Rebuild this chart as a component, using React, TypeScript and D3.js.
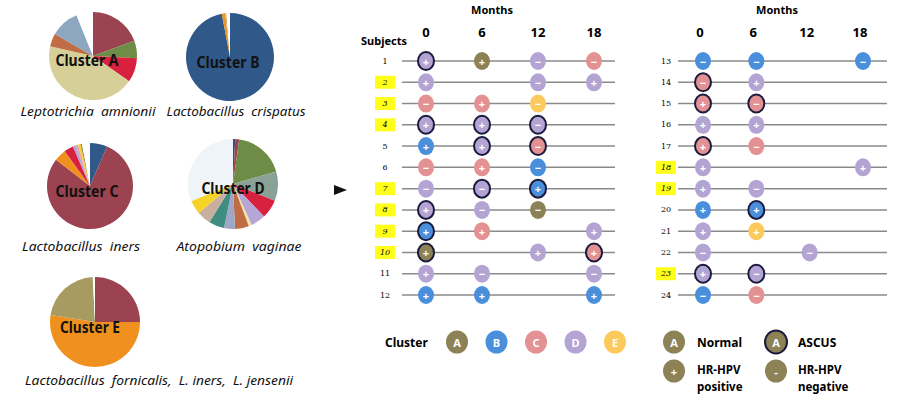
import * as d3 from "d3";
import React from "react";

// ---- data ----
const months = [0, 6, 12, 18];
const subjectsLeft = ["1", "2", "3", "4", "5", "6", "7", "8", "9", "10", "11", "12"];
const subjectsRight = ["13", "14", "15", "16", "17", "18", "19", "20", "21", "22", "23", "24"];
const highlighted = ["2", "3", "4", "7", "8", "9", "10", "18", "19", "23"];

// [subject, month, cluster, hr-hpv, ascus]
const visits: [string, number, string, string, boolean][] = [
    ["1", 0, "D", "+", true], ["1", 6, "A", "+", false], ["1", 12, "D", "-", false], ["1", 18, "C", "-", false],
    ["2", 0, "D", "+", false], ["2", 12, "D", "-", false], ["2", 18, "D", "+", false],
    ["3", 0, "C", "-", false], ["3", 6, "C", "+", false], ["3", 12, "E", "-", false],
    ["4", 0, "D", "+", true], ["4", 6, "D", "+", true], ["4", 12, "D", "-", true],
    ["5", 0, "B", "+", false], ["5", 6, "D", "+", true], ["5", 12, "C", "-", true],
    ["6", 0, "C", "-", false], ["6", 6, "C", "+", false], ["6", 12, "B", "-", false],
    ["7", 0, "D", "-", false], ["7", 6, "D", "-", true], ["7", 12, "B", "+", true],
    ["8", 0, "D", "+", true], ["8", 6, "D", "-", false], ["8", 12, "A", "-", false],
    ["9", 0, "B", "+", true], ["9", 6, "C", "+", false], ["9", 18, "D", "+", false],
    ["10", 0, "A", "+", true], ["10", 12, "D", "+", false], ["10", 18, "C", "+", true],
    ["11", 0, "D", "+", false], ["11", 6, "D", "-", false], ["11", 18, "D", "-", false],
    ["12", 0, "B", "+", false], ["12", 6, "B", "+", false], ["12", 18, "B", "+", false],
    ["13", 0, "B", "-", false], ["13", 6, "B", "-", false], ["13", 18, "B", "-", false],
    ["14", 0, "C", "-", true], ["14", 6, "D", "+", false],
    ["15", 0, "C", "+", true], ["15", 6, "C", "-", true],
    ["16", 0, "D", "+", false], ["16", 6, "D", "+", false],
    ["17", 0, "C", "+", true], ["17", 6, "C", "-", false],
    ["18", 0, "D", "+", false], ["18", 18, "D", "+", false],
    ["19", 0, "D", "+", false], ["19", 6, "D", "-", false],
    ["20", 0, "B", "+", false], ["20", 6, "B", "+", true],
    ["21", 0, "D", "+", false], ["21", 6, "E", "+", false],
    ["22", 0, "D", "-", false], ["22", 12, "D", "-", false],
    ["23", 0, "D", "+", true], ["23", 6, "D", "-", true],
    ["24", 0, "B", "-", false], ["24", 6, "C", "-", false],
];

const clusters = ["A", "B", "C", "D", "E"];
const clusterColours = ["#8c8256", "#4a8fdc", "#e39193", "#b4a4d4", "#fcc95c"];

// pie compositions (share of reads, clockwise from top)
const pieA = [19.4, 6.4, 8.9, 43.9, 4.7, 10.6, 6.1];
const pieAColours = ["#9b4350", "#6e8c45", "#d8203f", "#d6cf97", "#c06c44", "#8ea7c1", "#ffffff"];
const pieB = [97, 1.2, 0.5, 1.3];
const pieBColours = ["#30598a", "#f0911f", "#c9ad6e", "#ffffff"];
const pieC = [6.5, 79, 4.5, 3.5, 1.2, 0.8, 1, 0.5, 3];
const pieCColours = ["#30598a", "#9b4350", "#f0911f", "#d8203f", "#b6a6d6", "#e8a0b0", "#f5d327", "#8c8256", "#ffffff"];
const pieD = [0.8, 1.4, 18.3, 10.6, 6.8, 5.3, 1.1, 5, 3.9, 5.6, 5, 5, 31.2];
const pieDColours = ["#3d4b7a", "#9b4350", "#6e8c45", "#8aa196", "#d8203f", "#b6a6d6", "#f3e2a0", "#c06c44", "#9fa6c8", "#3f8c80", "#c9ad9e", "#f5d327", "#eef4f7"];
const pieE = [25, 52.5, 21.7, 0.8];
const pieEColours = ["#9b4350", "#f0911f", "#a89b62", "#ffffff"];

const pies = [
    { name: "Cluster A", species: "Leptotrichia  amnionii", values: pieA, colours: pieAColours, cx: 93, cy: 56, r: 44, lx: 87, ly: 60, sx: 88, sy: 116, tl: 63, sl: 135 },
    { name: "Cluster B", species: "Lactobacillus  crispatus", values: pieB, colours: pieBColours, cx: 230, cy: 57, r: 44, lx: 228, ly: 62, sx: 236, sy: 116, tl: 63, sl: 139 },
    { name: "Cluster C", species: "Lactobacillus  iners", values: pieC, colours: pieCColours, cx: 90, cy: 186, r: 43, lx: 87, ly: 191, sx: 81, sy: 251, tl: 63, sl: 118 },
    { name: "Cluster D", species: "Atopobium  vaginae", values: pieD, colours: pieDColours, cx: 233, cy: 184, r: 45, lx: 233, ly: 188, sx: 239, sy: 251, tl: 63, sl: 125 },
    { name: "Cluster E", species: "Lactobacillus  fornicalis,  L. iners,  L. jensenii", values: pieE, colours: pieEColours, cx: 95, cy: 322, r: 45, lx: 90, ly: 327, sx: 159, sy: 385, tl: 60, sl: 268 },
];

const font = "'Noto Sans', 'Open Sans', sans-serif";
const colourOf = (c: string) => clusterColours[clusters.indexOf(c)];

function Pie(props: any) {
    const p = props.p;
    const arcs = d3.pie<number>().sort(null)(p.values);
    const arc = d3.arc<d3.PieArcDatum<number>>().innerRadius(0).outerRadius(p.r);
    return (
        <g>
            <g transform={`translate(${p.cx},${p.cy})`}>
                {arcs.map((a, i) => (
                    <path key={i} d={arc(a) || ""} fill={p.colours[i]} />
                ))}
            </g>
            <text x={p.lx} y={p.ly} textAnchor="middle" dominantBaseline="central" fontSize={16} fontWeight="bold"
                fill="#111" textLength={p.tl} lengthAdjust="spacingAndGlyphs">{p.name}</text>
            <text x={p.sx} y={p.sy} textAnchor="middle" fontSize={12} fontStyle="italic" fill="#111"
                textLength={p.sl} lengthAdjust="spacingAndGlyphs" style={{ whiteSpace: "pre" }}>{p.species}</text>
        </g>
    );
}

function Marker(props: any) {
    const { x, y, fill, label, ascus, rx, ry, size } = props;
    return (
        <g>
            <ellipse cx={x} cy={y} rx={rx} ry={ry} fill={fill}
                stroke={ascus ? "#1a1a3c" : "none"} strokeWidth={ascus ? 2 : 0} />
            <text x={x} y={y} textAnchor="middle" dominantBaseline="central" fill="#fff"
                fontSize={size} fontWeight="bold">{label}</text>
        </g>
    );
}

function Panel(props: any) {
    const { subjects, xRange, lineX, labelX, title } = props;
    const x = d3.scaleLinear().domain([0, 18]).range(xRange);
    const y = d3.scalePoint<string>().domain(subjects).range([61, 295]);
    const rows = visits.filter(v => subjects.includes(v[0]));
    return (
        <g>
            <text x={title} y={14} textAnchor="middle" fontSize={11} fontWeight="bold">Months</text>
            {months.map(m => (
                <text key={m} x={x(m) - (props.headShift || 0)} y={37} textAnchor="middle" fontSize={13} fontWeight="bold">{m}</text>
            ))}
            {subjects.map(s => {
                const hl = highlighted.includes(s);
                return (
                    <g key={s}>
                        <line x1={lineX[0]} x2={lineX[1]} y1={y(s)} y2={y(s)} stroke="#8a8a8a" strokeWidth={1.5} />
                        {hl && <rect x={labelX - 10} y={(y(s) || 0) - 6.5} width={20} height={13} fill="#ffff1a" />}
                        <text x={labelX} y={y(s)} textAnchor="middle" dominantBaseline="central" fontSize={8}
                            fontStyle={hl ? "italic" : "normal"} fontFamily="'DejaVu Serif', serif">{s}</text>
                    </g>
                );
            })}
            {rows.map((v, i) => (
                <Marker key={i} x={x(v[1])} y={y(v[0])} fill={colourOf(v[2])} label={v[3] === "+" ? "+" : "−"}
                    ascus={v[4]} rx={8} ry={9} size={11} />
            ))}
        </g>
    );
}

export default function App() {
    return (
        <svg width={900} height={400} style={{ position: "absolute", left: 0, top: 0, background: "#fff" }} fontFamily={font}>
            {pies.map(p => <Pie key={p.name} p={p} />)}
            <polygon points="334,185 347,190 334,195" fill="#111" />

            <Panel subjects={subjectsLeft} xRange={[426, 594]} lineX={[402, 615]} labelX={385} title={492} />
            <Panel subjects={subjectsRight} xRange={[703, 863]} lineX={[678, 887]} labelX={666} title={777} headShift={3} />
            <text x={384} y={45} textAnchor="middle" fontSize={11} fontWeight="bold">Subjects</text>

            {/* legend */}
            <text x={385} y={342} dominantBaseline="central" fontSize={12} fontWeight="bold">Cluster</text>
            {clusters.map((c, i) => (
                <Marker key={c} x={457 + i * 39.5} y={342} fill={clusterColours[i]} label={c} ascus={false} rx={11} ry={11.5} size={11} />
            ))}
            <Marker x={674} y={342} fill={clusterColours[0]} label="A" ascus={false} rx={11} ry={11.5} size={11} />
            <text x={697} y={342} dominantBaseline="central" fontSize={12} fontWeight="bold">Normal</text>
            <Marker x={776} y={342} fill={clusterColours[0]} label="A" ascus={true} rx={11} ry={11.5} size={11} />
            <text x={798} y={342} dominantBaseline="central" fontSize={12} fontWeight="bold">ASCUS</text>
            <Marker x={674} y={371} fill={clusterColours[0]} label="+" ascus={false} rx={11} ry={11.5} size={11} />
            <text x={697} y={374} fontSize={11.5} fontWeight="bold">HR-HPV</text>
            <text x={697} y={391} fontSize={11.5} fontWeight="bold">positive</text>
            <Marker x={776} y={371} fill={clusterColours[0]} label="-" ascus={false} rx={11} ry={11.5} size={11} />
            <text x={798} y={374} fontSize={11.5} fontWeight="bold">HR-HPV</text>
            <text x={798} y={391} fontSize={11.5} fontWeight="bold">negative</text>
        </svg>
    );
}
